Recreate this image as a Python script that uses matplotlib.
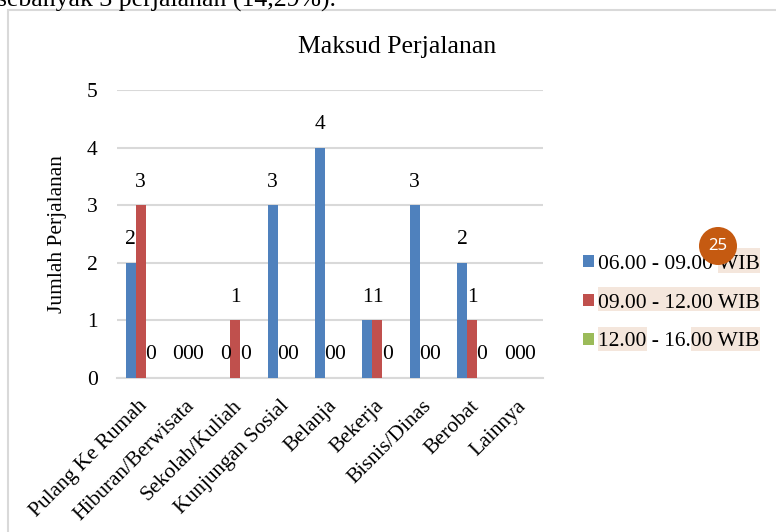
import matplotlib
matplotlib.use("Agg")
import matplotlib.pyplot as plt
from matplotlib.patches import Rectangle, Circle
from matplotlib.transforms import ScaledTranslation
import numpy as np

categories = ["Pulang Ke Rumah", "Hiburan/Berwisata", "Sekolah/Kuliah", "Kunjungan Sosial",
              "Belanja", "Bekerja", "Bisnis/Dinas", "Berobat", "Lainnya"]
series_names = ["06.00 - 09.00 WIB", "09.00 - 12.00 WIB", "12.00 - 16.00 WIB"]
s_pagi = [2, 0, 0, 3, 4, 1, 3, 2, 0]
s_siang = [3, 0, 1, 0, 0, 1, 0, 1, 0]
s_sore = [0, 0, 0, 0, 0, 0, 0, 0, 0]
colors = ["#4F81BD", "#C0504D", "#9BBB59"]
yticks = [0, 1, 2, 3, 4, 5]

plt.rcParams['font.family'] = ['Liberation Serif', 'DejaVu Serif']

W, H = 776, 532
fig = plt.figure(figsize=(W / 100, H / 100), dpi=100)

def fx(px):
    return px / W

def fy(py):
    return 1 - py / H

# page text (cut off at top, as in the reference)
fig.text(fx(-3), fy(7), "sebanyak 3 perjalanan (14,29%).", fontsize=18.5,
         va='baseline', ha='left', color='black')

# chart frame border
fig.add_artist(Rectangle((fx(8), fy(600)), fx(900), (600 - 10) / H, transform=fig.transFigure,
                         fill=False, edgecolor='#D9D9D9', linewidth=1.5, zorder=-2))

ax = fig.add_axes([fx(117), fy(378), fx(543 - 117), (378 - 90) / H])
x = np.arange(len(categories))
w = 0.21
all_series = [s_pagi, s_siang, s_sore]
for k, (vals, name, c) in enumerate(zip(all_series, series_names, colors)):
    xs = x + (k - 1) * w
    ax.bar(xs, vals, width=w, color=c, label=name, zorder=3)
    for xi, v in zip(xs, vals):
        ax.text(xi, v + 0.4, str(v), ha='center', va='center', fontsize=15.5, zorder=4)

ax.set_xlim(-0.5, len(categories) - 0.5)
ax.set_ylim(0, 5)
ax.set_yticks(yticks)
ax.set_yticklabels([str(t) for t in yticks], fontsize=15.5)
ax.yaxis.grid(True, color='#D9D9D9', linewidth=1.5, zorder=0)
ax.set_axisbelow(True)
for s in ['top', 'right', 'left']:
    ax.spines[s].set_visible(False)
ax.spines['bottom'].set_color('#D9D9D9')
ax.spines['bottom'].set_linewidth(1.5)
ax.tick_params(axis='both', length=0)
ax.tick_params(axis='y', pad=14)
ax.set_xticks(x)
ax.set_xticklabels(categories, rotation=45, ha='right', va='center',
                   rotation_mode='anchor', fontsize=15.5)
ax.tick_params(axis='x', pad=16)
off = ScaledTranslation(4 / 100, -3 / 100, fig.dpi_scale_trans)
for lab in ax.get_xticklabels():
    lab.set_transform(lab.get_transform() + off)
ax.set_ylabel("Jumlah Perjalanan", fontsize=15.5, labelpad=14)

fig.text(fx(397), fy(53), "Maksud Perjalanan", fontsize=18.5, ha='center', va='baseline')

# highlights behind legend text
hl = [(718, 248, 760, 273), (598, 287, 760, 311), (598, 327, 647, 351), (691, 327, 760, 351)]
for (x0, y0, x1, y1) in hl:
    fig.add_artist(Rectangle((fx(x0), fy(y1)), fx(x1 - x0), (y1 - y0) / H,
                             transform=fig.transFigure, facecolor='#F4E6DC',
                             edgecolor='none', zorder=-1))

leg = ax.legend(loc='center left',
                bbox_to_anchor=((583 - 117) / (543 - 117), (378 - 303) / 288),
                frameon=False, fontsize=15.5, handlelength=0.5, handleheight=0.5,
                handletextpad=0.2, labelspacing=0.92, borderpad=0, borderaxespad=0)

# page number badge (pixel-true circle)
fig.add_artist(Circle((718 / 100, (H - 246) / 100), 0.19, transform=fig.dpi_scale_trans,
                      facecolor='#C55A11', edgecolor='none', zorder=10))
fig.text(fx(718), fy(246), "25", fontsize=12, color='white', ha='center', va='center',
         family=['Noto Sans', 'DejaVu Sans'], zorder=11)

fig.savefig("out.png", dpi=100)
